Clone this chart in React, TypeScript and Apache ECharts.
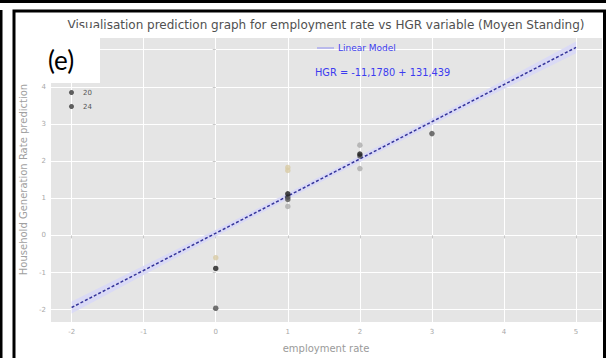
import React, { useEffect, useRef } from "react";
import * as echarts from "echarts";

// Observations (employment rate, predicted HGR), grouped by marker shade
const blackPts: number[][] = [[0, -0.89], [1, 1.12], [2, 2.19]];
const darkPts: number[][] = [[0, -1.96], [1, 1.03], [1, 0.97], [2, 2.14], [3, 2.74]];
const lightPts: number[][] = [[1, 0.78], [2, 2.43], [2, 1.8]];
const tanPts: number[][] = [[0, -0.6], [1, 1.83], [1, 1.75]];

// Linear model line (end points) and its confidence band
const modelX = [-2, 5];
const modelY = [-1.94, 5.06];
const bandX = [-2, 0, 1.5, 3.5, 5];
const bandLow = [-2.1, -0.03, 1.48, 3.46, 4.9];
const bandHigh = [-1.78, 0.15, 1.64, 3.66, 5.22];

const legendNames = ["20", "24"];
const titleText =
  "Visualisation prediction graph for employment rate vs HGR variable (Moyen Standing)";
const modelLabel = "Linear Model";
const equationText = "HGR = -11,1780 + 131,439";
const panelLabel = "(e)";

const FONT = "DejaVu Sans";

export default function App() {
  const ref = useRef<HTMLDivElement>(null);
  useEffect(() => {
    if (!ref.current) return;
    const chart = echarts.init(ref.current, undefined, { renderer: "svg" });
    const axisLabel = {
      fontSize: 7,
      color: "#a8a8a8",
      fontFamily: FONT,
      showMinLabel: false,
      showMaxLabel: false,
      formatter: (v: number) => (Number.isInteger(v) ? String(v) : ""),
    };
    chart.setOption({
      animation: false,
      backgroundColor: "#ffffff",
      textStyle: { fontFamily: FONT },
      grid: {
        left: 50,
        right: 4,
        top: 37,
        bottom: 27,
        show: true,
        backgroundColor: "#e5e5e5",
        borderWidth: 0,
      },
      legend: {
        data: legendNames.map((n) => ({ name: n, icon: "circle", itemStyle: { color: "#3a3a3a" } })),
        orient: "vertical",
        left: 64,
        top: 84,
        itemWidth: 5,
        itemHeight: 5,
        itemGap: 7,
        textStyle: { fontSize: 7, color: "#555", fontFamily: FONT, padding: [0, 0, 0, 4] },
      },
      xAxis: {
        type: "value",
        min: -2.3,
        max: 5.36,
        minInterval: 1,
        maxInterval: 1,
        axisLine: { show: false },
        axisTick: { show: true, length: 3, lineStyle: { color: "#c8c8c8" } },
        axisLabel: { ...axisLabel, margin: 6 },
        splitLine: { show: true, lineStyle: { color: "#ffffff", width: 1 } },
        name: "employment rate",
        nameLocation: "middle",
        nameGap: 21,
        nameTextStyle: { fontSize: 10, color: "#9a9a9a", fontFamily: FONT },
      },
      yAxis: {
        type: "value",
        min: -2.33,
        max: 5.34,
        minInterval: 1,
        maxInterval: 1,
        axisLine: { show: false },
        axisTick: { show: true, length: 3, lineStyle: { color: "#c8c8c8" } },
        axisLabel: { ...axisLabel, margin: 4 },
        splitLine: { show: true, lineStyle: { color: "#ffffff", width: 1 } },
        name: "Household Generation Rate prediction",
        nameLocation: "middle",
        nameGap: 19,
        nameTextStyle: { fontSize: 10, color: "#a0a0a0", fontFamily: FONT },
      },
      series: [
        {
          type: "custom",
          name: "band",
          silent: true,
          data: [[0, 0]],
          renderItem: (_params: any, api: any) => {
            const pts: number[][] = [];
            for (let i = 0; i < bandX.length; i++) pts.push(api.coord([bandX[i], bandHigh[i]]));
            for (let i = bandX.length - 1; i >= 0; i--) pts.push(api.coord([bandX[i], bandLow[i]]));
            return {
              type: "polygon",
              shape: { points: pts },
              style: { fill: "#dadaf5", stroke: "none" },
            };
          },
          z: 1,
        },
        {
          type: "line",
          name: modelLabel,
          data: modelX.map((x, i) => [x, modelY[i]]),
          symbol: "none",
          lineStyle: { color: "#34349a", width: 1.5, type: [3, 2] },
          z: 2,
        },
        {
          type: "scatter",
          name: "tan",
          data: tanPts,
          symbolSize: 5.5,
          itemStyle: { color: "#d8caa4" },
          z: 3,
        },
        {
          type: "scatter",
          name: "light",
          data: lightPts,
          symbolSize: 5.5,
          itemStyle: { color: "#ababab" },
          z: 3,
        },
        {
          type: "scatter",
          name: legendNames[1],
          data: darkPts,
          symbolSize: 5.5,
          itemStyle: { color: "#505050" },
          z: 4,
        },
        {
          type: "scatter",
          name: legendNames[0],
          data: blackPts,
          symbolSize: 5.5,
          itemStyle: { color: "#1c1c1c" },
          z: 5,
        },
      ],
      graphic: [
        { type: "rect", shape: { x: 0, y: 0, width: 606, height: 3 }, style: { fill: "#000" }, z: 100 },
        { type: "rect", shape: { x: 0, y: 10, width: 2.5, height: 348 }, style: { fill: "#000" }, z: 100 },
        {
          type: "rect",
          shape: { x: 14, y: 11, width: 590.5, height: 400 },
          style: { fill: "none", stroke: "#000", lineWidth: 3 },
          z: 100,
        },
        {
          type: "text",
          x: 326,
          y: 25,
          style: {
            text: titleText,
            fontSize: 12,
            fontFamily: FONT,
            fill: "#505050",
            textAlign: "center",
            textVerticalAlign: "middle",
          },
          z: 50,
        },
        {
          type: "line",
          shape: { x1: 317, y1: 48, x2: 334, y2: 48 },
          style: { stroke: "#9a9aee", lineWidth: 1.2 },
          z: 50,
        },
        {
          type: "text",
          x: 338,
          y: 48,
          style: {
            text: modelLabel,
            fontSize: 9,
            fontFamily: FONT,
            fill: "#3c3cf0",
            textAlign: "left",
            textVerticalAlign: "middle",
          },
          z: 50,
        },
        {
          type: "text",
          x: 315,
          y: 72,
          style: {
            text: equationText,
            fontSize: 9.8,
            fontFamily: FONT,
            fill: "#3c3cf0",
            textAlign: "left",
            textVerticalAlign: "middle",
          },
          z: 50,
        },
        {
          type: "rect",
          shape: { x: 25, y: 28, width: 75, height: 55 },
          style: { fill: "#ffffff" },
          z: 60,
        },
        {
          type: "text",
          x: 61,
          y: 60,
          style: {
            text: panelLabel,
            fontSize: 26,
            fontFamily: "Lato",
            fill: "#000",
            textAlign: "center",
            textVerticalAlign: "middle",
          },
          z: 61,
        },
      ],
    });
    return () => chart.dispose();
  }, []);
  return (
    <div
      ref={ref}
      style={{ position: "absolute", left: 0, top: 0, width: 606, height: 358 }}
    />
  );
}
